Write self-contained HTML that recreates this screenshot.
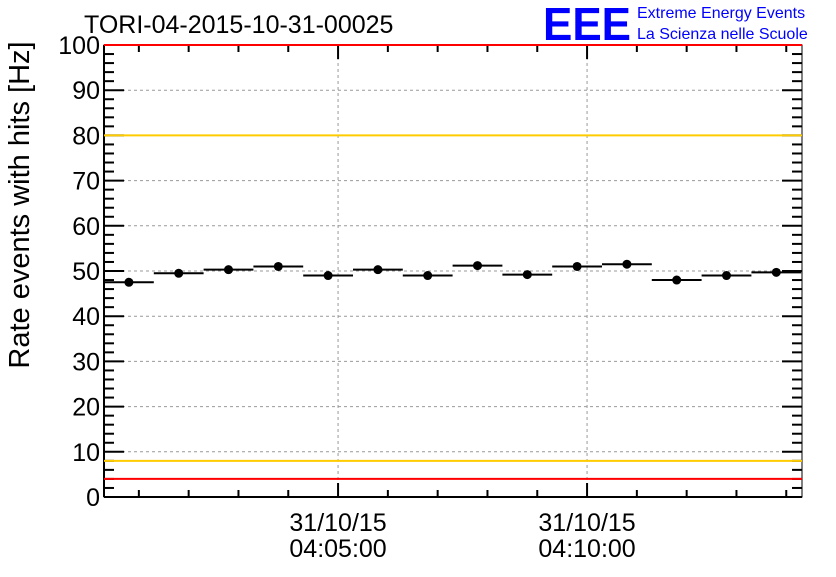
<!DOCTYPE html>
<html><head><meta charset="utf-8"><style>
body{margin:0;background:#fff;}
svg text{font-family:"Liberation Sans",sans-serif;}
</style></head><body>
<svg id="c" width="836" height="572" xmlns="http://www.w3.org/2000/svg">
<rect width="836" height="572" fill="#fff"/>
<text x="84" y="33" font-size="25">TORI-04-2015-10-31-00025</text>
<text x="543" y="40" font-size="46" fill="#0000ff" font-weight="bold" textLength="88" lengthAdjust="spacingAndGlyphs">EEE</text>
<text x="637" y="18" font-size="16" fill="#0000ff">Extreme Energy Events</text>
<text x="637" y="39" font-size="16" fill="#0000ff">La Scienza nelle Scuole</text>
<text transform="translate(29,205) rotate(-90)" font-size="29" text-anchor="middle">Rate events with hits [Hz]</text>
<g id="grid"></g><g id="axes"></g><g id="marks"></g><g id="refs"></g>
</svg>
<script>
const values=[47.5,49.5,50.3,51.0,49.0,50.3,49.0,51.2,49.2,51.0,51.5,48.0,49.0,49.7];
const yTicks=[0,10,20,30,40,50,60,70,80,90,100];
const xMajorLabels=[["31/10/15","04:05:00"],["31/10/15","04:10:00"]];
const xMajorMin=[5,10];
const refRed=[100,4];
const refOrange=[80,8];
const startMin=0.3;
const L=104,R=802,T=45,B=497,NS="http://www.w3.org/2000/svg";
const pxPerMin=49.8;
const X=m=>L+(m-startMin)*pxPerMin;
const Y=v=>B-(v/100)*(B-T);
function mk(t,a,p){const e=document.createElementNS(NS,t);for(const k in a)e.setAttribute(k,a[k]);p.appendChild(e);return e;}
const g=document.getElementById('grid'),ax=document.getElementById('axes'),mg=document.getElementById('marks'),rg=document.getElementById('refs');
yTicks.forEach(v=>{if(v>0&&v<100){const l=mk('line',{x1:L,x2:R,y1:Y(v),y2:Y(v),stroke:'#999','stroke-dasharray':'3,3','stroke-width':1},g);

}});
xMajorMin.forEach(m=>{const l=mk('line',{x1:X(m),x2:X(m),y1:T,y2:B,stroke:'#999','stroke-dasharray':'3,3','stroke-width':1},g);

});
const f=mk('rect',{x:L,y:T,width:R-L,height:B-T,fill:'none',stroke:'#000','stroke-width':1},ax);


mk('line',{x1:L,x2:L,y1:T,y2:B,stroke:'#000','stroke-width':2},ax);
mk('line',{x1:L,x2:R,y1:B,y2:B,stroke:'#000','stroke-width':2},ax);
for(let v=0;v<=100;v+=2){const maj=v%10===0,len=maj?20:10;
mk('line',{x1:L,x2:L+len,y1:Y(v),y2:Y(v),stroke:'#000','stroke-width':2},ax);
mk('line',{x1:R,x2:R-len,y1:Y(v),y2:Y(v),stroke:'#000','stroke-width':2},ax);}
yTicks.forEach(v=>{const t=mk('text',{x:L-4,y:Y(v)+9,'font-size':25,'text-anchor':'end'},ax);t.textContent=v;

});
for(let m=1;m<=14;m++){const x=X(m);if(x>R)break;const maj=m%5===0,len=maj?14:7;
mk('line',{x1:x,x2:x,y1:B,y2:B-len,stroke:'#000','stroke-width':2},ax);
mk('line',{x1:x,x2:x,y1:T,y2:T+len,stroke:'#000','stroke-width':2},ax);}
xMajorMin.forEach((m,i)=>{[0,1].forEach(j=>{const t=mk('text',{x:X(m),y:531+j*26,'font-size':25,'text-anchor':'middle'},ax);t.textContent=xMajorLabels[i][j];

});});
refRed.forEach(v=>{const l=mk('line',{x1:L,x2:R,y1:Y(v),y2:Y(v),stroke:'#ff0000','stroke-width':2},rg);

});
refOrange.forEach(v=>{const l=mk('line',{x1:L,x2:R,y1:Y(v),y2:Y(v),stroke:'#ffcc00','stroke-width':2},rg);

});
values.forEach((v,i)=>{const x0=X(startMin+i),x1=Math.min(X(startMin+i+1),R),cx=(X(startMin+i)+X(startMin+i+1))/2;
const l=mk('line',{x1:x0,x2:x1,y1:Y(v),y2:Y(v),stroke:'#000','stroke-width':2},mg);


const c=mk('circle',{cx:cx,cy:Y(v),r:4.5,fill:'#000'},mg);

});
</script>
</body></html>
